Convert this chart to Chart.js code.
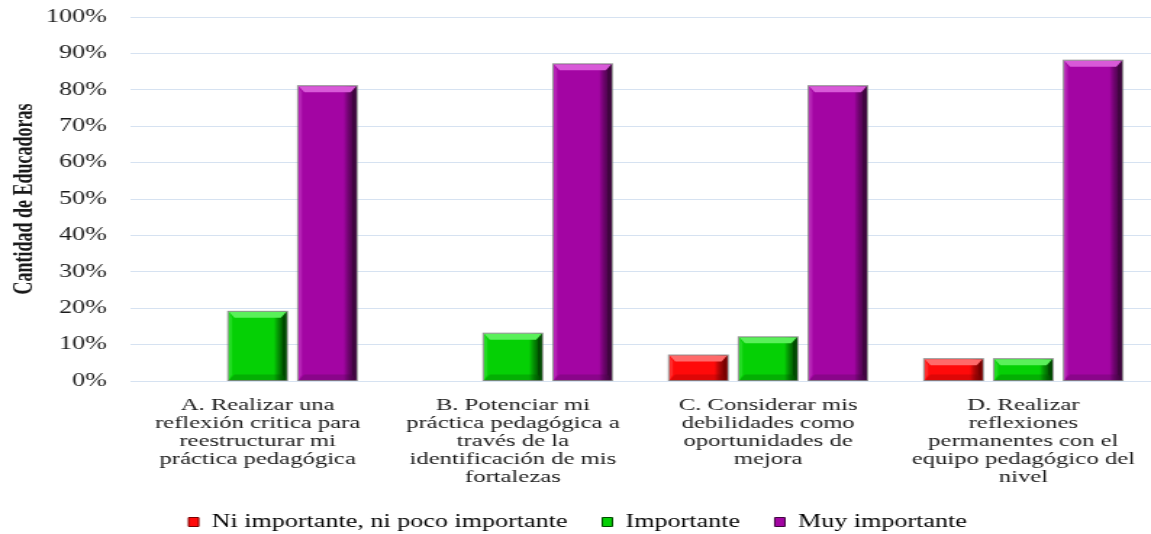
<!DOCTYPE html>
<html>
<head>
<meta charset="utf-8">
<script src="https://cdn.jsdelivr.net/npm/chart.js@4/dist/chart.umd.min.js"></script>
<style>
  html, body { margin: 0; padding: 0; background: #fff; overflow: hidden; }
  #wrap { width: 794px; height: 534px; transform: scaleX(1.4496); transform-origin: 0 0; }
</style>
</head>
<body>
<div id="wrap"><canvas id="chartZo" width="794" height="534"></canvas></div>
<script>
// categories and series (percent of educators)
var categories = [
    ["A. Realizar una", "reflexión critica para", "reestructurar mi", "práctica pedagógica"],
    ["B. Potenciar mi", "práctica pedagógica a", "través de la", "identificación de mis", "fortalezas"],
    ["C. Considerar mis", "debilidades como", "oportunidades de", "mejora"],
    ["D. Realizar", "reflexiones", "permanentes con el", "equipo pedagógico del", "nivel"]
];
var seriesNames = ["Ni importante, ni poco importante", "Importante", "Muy importante"];
var niImportante = [0, 0, 7, 6];
var importante = [19, 13, 12, 6];
var muyImportante = [81, 87, 81, 88];
var yTicks = [0, 10, 20, 30, 40, 50, 60, 70, 80, 90, 100];

// base / light / dark tones for the bevel look
var tones = [
    { base: "#ff0a0a", light: "#ff6a6a", dark: "#7a0000" },
    { base: "#05d005", light: "#5af05a", dark: "#004a00" },
    { base: "#a305a3", light: "#d85ad8", dark: "#3f063f" }
];

Chart.defaults.font.family = '"Liberation Serif", "Times New Roman", serif';
Chart.defaults.color = "#1a1a1a";

var bevelPlugin = {
    id: "bevel",
    afterDatasetsDraw: function (chart) {
        var ctx = chart.ctx;
        chart.data.datasets.forEach(function (ds, di) {
            var meta = chart.getDatasetMeta(di);
            var t = tones[di];
            meta.data.forEach(function (bar) {
                var p = bar.getProps(["x", "y", "base", "width"], true);
                var l = p.x - p.width / 2, r = p.x + p.width / 2;
                var top = Math.min(p.y, p.base), bot = Math.max(p.y, p.base);
                var h = bot - top;
                if (h < 1) return;
                var bv = Math.min(6, h / 3), bh = 4;
                ctx.save();
                // right side darkening
                var g = ctx.createLinearGradient(r - p.width * 0.22, 0, r, 0);
                g.addColorStop(0, "rgba(0,0,0,0)");
                g.addColorStop(1, t.dark);
                ctx.fillStyle = g;
                ctx.fillRect(r - p.width * 0.22, top, p.width * 0.22, h);
                // top bevel
                ctx.fillStyle = t.light;
                ctx.beginPath();
                ctx.moveTo(l, top); ctx.lineTo(r, top);
                ctx.lineTo(r - bh, top + bv); ctx.lineTo(l + bh, top + bv);
                ctx.closePath(); ctx.fill();
                // bottom bevel
                ctx.fillStyle = t.dark;
                ctx.globalAlpha = 0.25;
                ctx.beginPath();
                ctx.moveTo(l, bot); ctx.lineTo(r, bot);
                ctx.lineTo(r - bh, bot - bv); ctx.lineTo(l + bh, bot - bv);
                ctx.closePath(); ctx.fill();
                // left bevel
                ctx.fillStyle = t.light;
                ctx.globalAlpha = 0.35;
                ctx.beginPath();
                ctx.moveTo(l, top); ctx.lineTo(l, bot);
                ctx.lineTo(l + bh * 0.6, bot - bv); ctx.lineTo(l + bh * 0.6, top + bv);
                ctx.closePath(); ctx.fill();
                // right bevel
                ctx.globalAlpha = 1;
                ctx.fillStyle = t.dark;
                ctx.beginPath();
                ctx.moveTo(r, top); ctx.lineTo(r, bot);
                ctx.lineTo(r - bh * 0.7, bot - bv); ctx.lineTo(r - bh * 0.7, top + bv);
                ctx.closePath(); ctx.fill();
                // outline
                ctx.strokeStyle = "rgba(120,120,120,0.8)";
                ctx.lineWidth = 1;
                ctx.strokeRect(l - 0.5, top - 0.5, p.width + 1, h + 0.5);
                ctx.restore();
            });
        });
    }
};

var allSeries = [niImportante, importante, muyImportante];
var datasets = allSeries.map(function (vals, i) {
    return {
        label: seriesNames[i],
        data: vals,
        backgroundColor: tones[i].base,
        borderColor: tones[i].dark,
        borderWidth: 0,
        categoryPercentage: 0.82,
        barPercentage: 0.83
    };
});

var duc = document.getElementById("chartZo");
new Chart(duc, {
    type: "bar",
    data: { labels: categories, datasets: datasets },
    plugins: [bevelPlugin],
    options: {
        responsive: false,
        animation: false,
        devicePixelRatio: 1,
        layout: { padding: { left: 3, right: 0, top: 17, bottom: -7 } },
        plugins: {
            tooltip: { enabled: false },
            legend: {
                position: "bottom",
                labels: {
                    boxWidth: 7,
                    boxHeight: 9,
                    padding: 24,
                    font: { size: 18 },
                    color: "#1a1a1a",
                    generateLabels: function (chart) {
                        return chart.data.datasets.map(function (ds, i) {
                            return {
                                text: ds.label,
                                fillStyle: tones[i].base,
                                strokeStyle: tones[i].dark,
                                lineWidth: 1,
                                datasetIndex: i
                            };
                        });
                    }
                }
            }
        },
        scales: {
            x: {
                grid: { display: false },
                border: { display: false },
                afterFit: function (axis) { axis.height = 108; },
                ticks: {
                    autoSkip: false,
                    maxRotation: 0,
                    minRotation: 0,
                    padding: 8,
                    font: { size: 17, lineHeight: 18 / 17 },
                    color: "#1a1a1a"
                }
            },
            y: {
                min: 0,
                max: 100,
                afterBuildTicks: function (axis) {
                    axis.ticks = yTicks.map(function (v) { return { value: v }; });
                },
                afterFit: function (axis) {
                    axis.width = 86.7;
                    axis.paddingTop = 0;
                    axis.paddingBottom = 0;
                },
                grid: { color: "#d6e2f1", lineWidth: 1, drawTicks: false },
                border: { display: false },
                ticks: {
                    padding: 16,
                    font: { size: 18 },
                    color: "#1a1a1a",
                    callback: function (v) { return v + "%"; }
                },
                title: {
                    display: true,
                    text: "Cantidad de Educadoras",
                    font: { size: 18, weight: "bold" },
                    color: "#1a1a1a",
                    padding: { top: 4, bottom: 4 }
                }
            }
        }
    }
});
</script>
</body>
</html>
